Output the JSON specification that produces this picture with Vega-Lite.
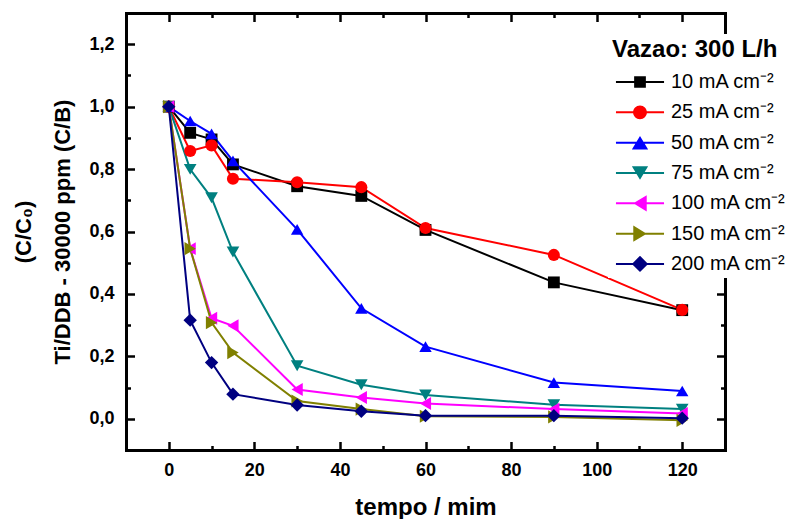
{
  "$schema": "https://vega.github.io/schema/vega-lite/v6.json",
  "width": 599,
  "height": 437,
  "autosize": "none",
  "padding": {"left": 126, "top": 13, "right": 69, "bottom": 69},
  "background": "white",
  "data": {
    "values": [
      {"t": 0, "v": 1.0, "j": 10}, {"t": 5, "v": 0.916, "j": 10}, {"t": 10, "v": 0.895, "j": 10}, {"t": 15, "v": 0.815, "j": 10}, {"t": 30, "v": 0.745, "j": 10}, {"t": 45, "v": 0.714, "j": 10}, {"t": 60, "v": 0.605, "j": 10}, {"t": 90, "v": 0.437, "j": 10}, {"t": 120, "v": 0.348, "j": 10},
      {"t": 0, "v": 1.0, "j": 25}, {"t": 5, "v": 0.858, "j": 25}, {"t": 10, "v": 0.876, "j": 25}, {"t": 15, "v": 0.769, "j": 25}, {"t": 30, "v": 0.758, "j": 25}, {"t": 45, "v": 0.742, "j": 25}, {"t": 60, "v": 0.611, "j": 25}, {"t": 90, "v": 0.525, "j": 25}, {"t": 120, "v": 0.349, "j": 25},
      {"t": 0, "v": 1.0, "j": 50}, {"t": 5, "v": 0.954, "j": 50}, {"t": 10, "v": 0.913, "j": 50}, {"t": 15, "v": 0.826, "j": 50}, {"t": 30, "v": 0.607, "j": 50}, {"t": 45, "v": 0.354, "j": 50}, {"t": 60, "v": 0.231, "j": 50}, {"t": 90, "v": 0.116, "j": 50}, {"t": 120, "v": 0.089, "j": 50},
      {"t": 0, "v": 1.0, "j": 75}, {"t": 5, "v": 0.799, "j": 75}, {"t": 10, "v": 0.708, "j": 75}, {"t": 15, "v": 0.534, "j": 75}, {"t": 30, "v": 0.17, "j": 75}, {"t": 45, "v": 0.109, "j": 75}, {"t": 60, "v": 0.076, "j": 75}, {"t": 90, "v": 0.045, "j": 75}, {"t": 120, "v": 0.031, "j": 75},
      {"t": 0, "v": 1.0, "j": 100}, {"t": 5, "v": 0.545, "j": 100}, {"t": 10, "v": 0.322, "j": 100}, {"t": 15, "v": 0.298, "j": 100}, {"t": 30, "v": 0.094, "j": 100}, {"t": 45, "v": 0.068, "j": 100}, {"t": 60, "v": 0.049, "j": 100}, {"t": 90, "v": 0.031, "j": 100}, {"t": 120, "v": 0.017, "j": 100},
      {"t": 0, "v": 1.0, "j": 150}, {"t": 5, "v": 0.545, "j": 150}, {"t": 10, "v": 0.308, "j": 150}, {"t": 15, "v": 0.212, "j": 150}, {"t": 30, "v": 0.057, "j": 150}, {"t": 45, "v": 0.031, "j": 150}, {"t": 60, "v": 0.008, "j": 150}, {"t": 90, "v": 0.006, "j": 150}, {"t": 120, "v": -0.005, "j": 150},
      {"t": 0, "v": 1.0, "j": 200}, {"t": 5, "v": 0.316, "j": 200}, {"t": 10, "v": 0.18, "j": 200}, {"t": 15, "v": 0.079, "j": 200}, {"t": 30, "v": 0.044, "j": 200}, {"t": 45, "v": 0.024, "j": 200}, {"t": 60, "v": 0.01, "j": 200}, {"t": 90, "v": 0.01, "j": 200}, {"t": 120, "v": 0.002, "j": 200}
    ]
  },
  "resolve": {
    "scale": {"color": "independent", "shape": "independent"},
    "axis": {"x": "independent", "y": "independent"}
  },
  "layer": [
    {
      "mark": {"type": "line", "strokeWidth": 2},
      "encoding": {
        "x": {
          "field": "t", "type": "quantitative",
          "scale": {"domain": [-10, 130], "nice": false, "zero": false},
          "axis": {
            "orient": "bottom",
            "values": [0, 20, 40, 60, 80, 100, 120],
            "ticks": false,
            "tickSize": 0,
            "labelPadding": 11,
            "title": "tempo / mim",
            "titleFontSize": 24,
            "titlePadding": 16
          }
        },
        "y": {
          "field": "v", "type": "quantitative",
          "scale": {"domain": [-0.1, 1.3], "nice": false, "zero": false},
          "axis": {
            "orient": "left",
            "values": [0, 0.2, 0.4, 0.6, 0.8, 1.0, 1.2],
            "labelExpr": "replace(format(datum.value, '.1f'), '.', ',')",
            "ticks": false,
            "tickSize": 0,
            "labelPadding": 12,
            "title": ["(C/C₀)", "Ti/DDB - 30000 ppm (C/B)"],
            "titleLineHeight": 39,
            "titlePadding": 14
          }
        },
        "color": {
          "field": "j", "type": "ordinal",
          "scale": {"domain": [10, 25, 50, 75, 100, 150, 200], "range": ["#000000", "#FF0000", "#0000FF", "#008080", "#FF00FF", "#808000", "#000080"]},
          "legend": null
        },
        "detail": {"field": "j", "type": "ordinal"}
      }
    },
    {
      "mark": {"type": "point", "filled": true, "opacity": 1},
      "encoding": {
        "x": {
          "field": "t", "type": "quantitative",
          "scale": {"domain": [-10, 130], "nice": false, "zero": false},
          "axis": {"orient": "top", "values": [0, 20, 40, 60, 80, 100, 120], "labels": false, "ticks": false, "title": null}
        },
        "y": {
          "field": "v", "type": "quantitative",
          "scale": {"domain": [-0.1, 1.3], "nice": false, "zero": false},
          "axis": {"orient": "right", "values": [0, 0.2, 0.4, 0.6, 0.8, 1.0, 1.2], "labels": false, "ticks": false, "title": null}
        },
        "color": {
          "field": "j", "type": "ordinal",
          "scale": {"domain": [10, 25, 50, 75, 100, 150, 200], "range": ["#000000", "#FF0000", "#0000FF", "#008080", "#FF00FF", "#808000", "#000080"]},
          "legend": null
        },
        "shape": {
          "field": "j", "type": "ordinal",
          "scale": {"domain": [10, 25, 50, 75, 100, 150, 200], "range": ["square", "circle", "triangle-up", "triangle-down", "triangle-left", "triangle-right", "diamond"]},
          "legend": null
        },
        "size": {
          "field": "j", "type": "ordinal",
          "scale": {"domain": [10, 25, 50, 75, 100, 150, 200], "range": [140, 180, 240, 240, 240, 240, 240]},
          "legend": null
        }
      }
    },
    {
      "mark": {"type": "point", "filled": true, "opacity": 0},
      "encoding": {
        "x": {
          "field": "t", "type": "quantitative",
          "scale": {"domain": [-10, 130], "nice": false, "zero": false},
          "axis": {"orient": "bottom", "values": [0, 20, 40, 60, 80, 100, 120], "offset": -8.5, "tickSize": 8.5, "labels": false, "domain": false, "title": null}
        },
        "y": {
          "field": "v", "type": "quantitative",
          "scale": {"domain": [-0.1, 1.3], "nice": false, "zero": false},
          "axis": {"orient": "left", "values": [0, 0.2, 0.4, 0.6, 0.8, 1.0, 1.2], "offset": -8.5, "tickSize": 8.5, "labels": false, "domain": false, "title": null}
        },
        "color": {
          "field": "j", "type": "ordinal",
          "scale": {"domain": [10, 25, 50, 75, 100, 150, 200], "range": ["#000000", "#FF0000", "#0000FF", "#008080", "#FF00FF", "#808000", "#000080"]},
          "legend": {"title": "Vazao: 300 L/h", "labelExpr": "datum.label + ' mA cm⁻²'"}
        },
        "shape": {
          "field": "j", "type": "ordinal",
          "scale": {
            "domain": [10, 25, 50, 75, 100, 150, 200],
            "range": [
              "M-3.4,-0.14H3.4V0.14H-3.4Z M-0.83,-0.83H0.83V0.83H-0.83Z",
              "M-3.4,-0.14H3.4V0.14H-3.4Z M-0.98,0A0.98,0.98 0 1,1 0.98,0A0.98,0.98 0 1,1 -0.98,0Z",
              "M-3.4,-0.14H3.4V0.14H-3.4Z M0,-0.95L1.15,0.95L-1.15,0.95Z",
              "M-3.4,-0.14H3.4V0.14H-3.4Z M0,0.95L-1.15,-0.95L1.15,-0.95Z",
              "M-3.4,-0.14H3.4V0.14H-3.4Z M-0.95,0L0.95,-1.15L0.95,1.15Z",
              "M-3.4,-0.14H3.4V0.14H-3.4Z M0.95,0L-0.95,1.15L-0.95,-1.15Z",
              "M-3.4,-0.14H3.4V0.14H-3.4Z M0,-1.15L1.15,0L0,1.15L-1.15,0Z"
            ]
          },
          "legend": {"title": "Vazao: 300 L/h", "labelExpr": "datum.label + ' mA cm⁻²'"}
        }
      }
    },
    {
      "mark": {"type": "point", "opacity": 0},
      "encoding": {
        "x": {
          "field": "t", "type": "quantitative",
          "scale": {"domain": [-10, 130], "nice": false, "zero": false},
          "axis": {"orient": "top", "values": [0, 20, 40, 60, 80, 100, 120], "offset": -8.5, "tickSize": 8.5, "labels": false, "domain": false, "title": null}
        },
        "y": {
          "field": "v", "type": "quantitative",
          "scale": {"domain": [-0.1, 1.3], "nice": false, "zero": false},
          "axis": {"orient": "right", "values": [0, 0.2, 0.4, 0.6, 0.8, 1.0, 1.2], "offset": -8.5, "tickSize": 8.5, "labels": false, "domain": false, "title": null}
        }
      }
    },
    {
      "mark": {"type": "point", "opacity": 0},
      "encoding": {
        "x": {
          "field": "t", "type": "quantitative",
          "scale": {"domain": [-10, 130], "nice": false, "zero": false},
          "axis": {"orient": "bottom", "values": [10, 30, 50, 70, 90, 110], "offset": -4.5, "tickSize": 4.5, "labels": false, "domain": false, "title": null}
        },
        "y": {
          "field": "v", "type": "quantitative",
          "scale": {"domain": [-0.1, 1.3], "nice": false, "zero": false},
          "axis": {"orient": "left", "values": [0.1, 0.3, 0.5, 0.7, 0.9, 1.1], "offset": -4.5, "tickSize": 4.5, "labels": false, "domain": false, "title": null}
        }
      }
    },
    {
      "mark": {"type": "point", "opacity": 0},
      "encoding": {
        "x": {
          "field": "t", "type": "quantitative",
          "scale": {"domain": [-10, 130], "nice": false, "zero": false},
          "axis": {"orient": "top", "values": [10, 30, 50, 70, 90, 110], "offset": -4.5, "tickSize": 4.5, "labels": false, "domain": false, "title": null}
        },
        "y": {
          "field": "v", "type": "quantitative",
          "scale": {"domain": [-0.1, 1.3], "nice": false, "zero": false},
          "axis": {"orient": "right", "values": [0.1, 0.3, 0.5, 0.7, 0.9, 1.1], "offset": -4.5, "tickSize": 4.5, "labels": false, "domain": false, "title": null}
        }
      }
    }
  ],
  "config": {
    "font": "Liberation Sans",
    "view": {"stroke": null},
    "axis": {
      "grid": false,
      "domainColor": "black",
      "domainWidth": 3,
      "domainCap": "square",
      "tickColor": "black",
      "tickWidth": 2.5,
      "labelFont": "Liberation Sans",
      "labelFontSize": 18,
      "labelFontWeight": "bold",
      "labelColor": "black",
      "labelOverlap": false,
      "labelFlush": false,
      "titleFont": "Liberation Sans",
      "titleFontSize": 22,
      "titleFontWeight": "bold",
      "titleColor": "black"
    },
    "legend": {
      "orient": "none",
      "legendX": 482,
      "legendY": 21,
      "padding": 4,
      "fillColor": "white",
      "strokeColor": null,
      "titleFont": "Liberation Sans",
      "titleFontSize": 24,
      "titleFontWeight": "bold",
      "titleColor": "black",
      "titlePadding": 10,
      "labelFont": "Liberation Sans",
      "labelFontSize": 20,
      "labelColor": "black",
      "labelOffset": 21,
      "labelLimit": 0,
      "symbolSize": 200,
      "symbolOffset": 18,
      "symbolStrokeWidth": 0,
      "symbolOpacity": 1,
      "rowPadding": 10.33
    }
  }
}
